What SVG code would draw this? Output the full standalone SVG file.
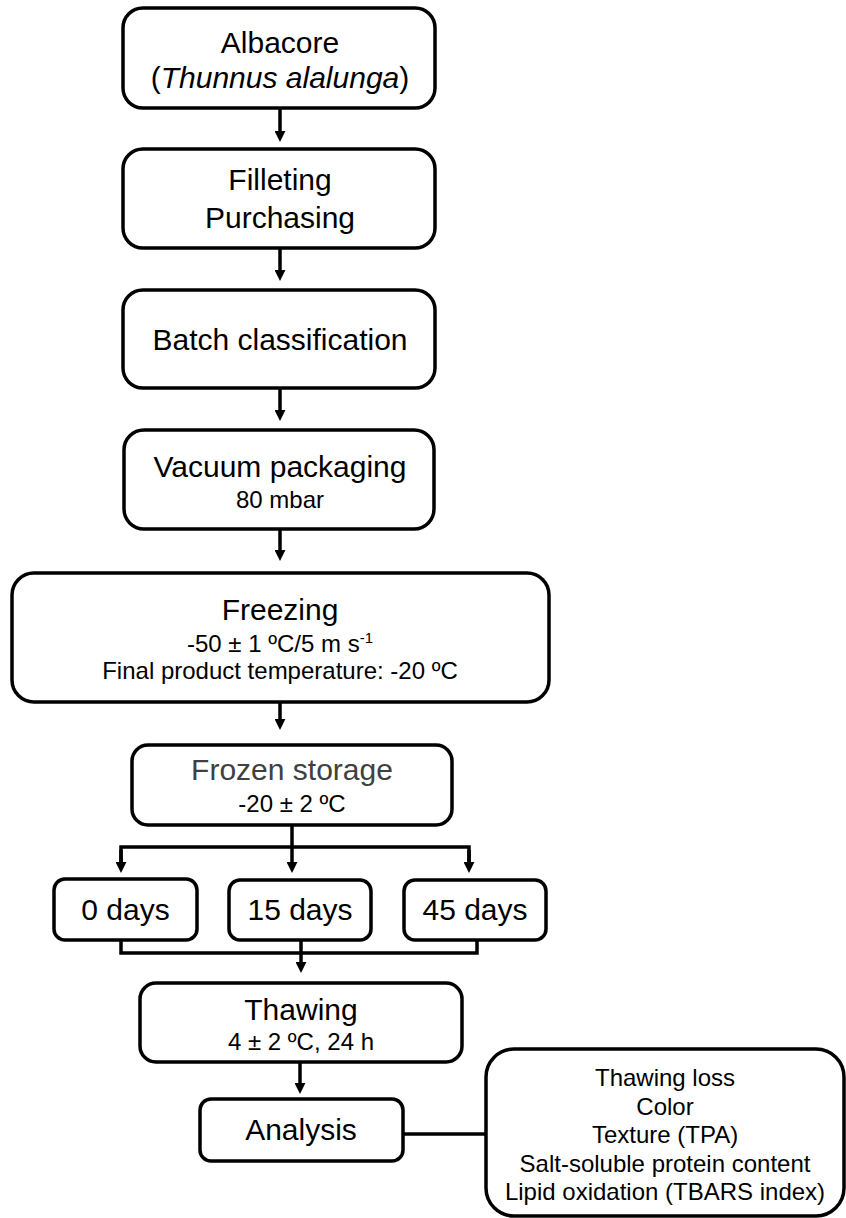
<svg xmlns="http://www.w3.org/2000/svg" width="846" height="1218" viewBox="0 0 846 1218">
<style>
.box{fill:#fff;stroke:#000;stroke-width:3.5}
.t{font-family:"Liberation Sans",Arial,sans-serif;fill:#000;text-anchor:middle}
.big{font-size:30px}
.sm{font-size:24px}
.ln{fill:none;stroke:#000;stroke-width:3.5}
</style>
<defs>
<marker id="ah" viewBox="0 0 10 10" refX="1" refY="5" markerWidth="11" markerHeight="11" markerUnits="userSpaceOnUse" orient="auto">
<path d="M0,0 L10,5 L0,10 z" fill="#000"/>
</marker>
</defs>
<rect width="846" height="1218" fill="#fff"/>
<g id="connectors">
<line class="ln" x1="280" y1="108" x2="280" y2="132" marker-end="url(#ah)"/>
<line class="ln" x1="280" y1="248" x2="280" y2="271" marker-end="url(#ah)"/>
<line class="ln" x1="280" y1="388" x2="280" y2="411" marker-end="url(#ah)"/>
<line class="ln" x1="280" y1="529" x2="280" y2="551" marker-end="url(#ah)"/>
<line class="ln" x1="280" y1="702" x2="280" y2="720" marker-end="url(#ah)"/>
<polyline class="ln" points="292,825 292,847"/>
<polyline class="ln" points="121,863 121,847 469,847 469,863" />
<line class="ln" x1="121" y1="850" x2="121" y2="863" marker-end="url(#ah)"/>
<line class="ln" x1="292" y1="847" x2="292" y2="863" marker-end="url(#ah)"/>
<line class="ln" x1="469" y1="850" x2="469" y2="863" marker-end="url(#ah)"/>
<polyline class="ln" points="121,940 121,953 477,953 477,940"/>
<line class="ln" x1="301" y1="940" x2="301" y2="963" marker-end="url(#ah)"/>
<line class="ln" x1="300" y1="1062" x2="300" y2="1084" marker-end="url(#ah)"/>
<line class="ln" x1="403" y1="1134" x2="486" y2="1134"/>
</g>
<g id="albacore">
<rect class="box" x="123" y="8" width="312" height="100" rx="20"/>
<text class="t big" x="280" y="53">Albacore</text>
<text class="t big" x="280" y="88">(<tspan font-style="italic">Thunnus alalunga</tspan>)</text>
</g>
<g id="filleting">
<rect class="box" x="123" y="149" width="312" height="99" rx="20"/>
<text class="t big" x="280" y="190">Filleting</text>
<text class="t big" x="280" y="228">Purchasing</text>
</g>
<g id="batch">
<rect class="box" x="123" y="290" width="312" height="98" rx="20"/>
<text class="t big" x="280" y="350">Batch classification</text>
</g>
<g id="vacuum">
<rect class="box" x="124" y="430" width="310" height="99" rx="20"/>
<text class="t big" x="280" y="477">Vacuum packaging</text>
<text class="t sm" x="280" y="508">80 mbar</text>
</g>
<g id="freezing">
<rect class="box" x="12" y="573" width="537" height="129" rx="22"/>
<text class="t big" x="280" y="620">Freezing</text>
<text class="t sm" x="280" y="652">-50 ± 1 ºC/5 m s<tspan font-size="15" dy="-9">-1</tspan></text>
<text class="t sm" x="280" y="679">Final product temperature: -20 ºC</text>
</g>
<g id="storage">
<rect class="box" x="132" y="745" width="320" height="80" rx="16"/>
<text class="t big" x="292" y="780" fill="#404040" style="fill:#404040">Frozen storage</text>
<text class="t sm" x="292" y="812">-20 ± 2 ºC</text>
</g>
<g id="day0">
<rect class="box" x="54" y="879" width="143" height="61" rx="11"/>
<text class="t big" x="125.5" y="920">0 days</text>
</g>
<g id="day15">
<rect class="box" x="229" y="880" width="142" height="60" rx="11"/>
<text class="t big" x="300" y="920">15 days</text>
</g>
<g id="day45">
<rect class="box" x="404" y="880" width="142" height="60" rx="11"/>
<text class="t big" x="475" y="920">45 days</text>
</g>
<g id="thawing">
<rect class="box" x="140" y="983" width="322" height="79" rx="16"/>
<text class="t big" x="301" y="1020">Thawing</text>
<text class="t sm" x="301" y="1050">4 ± 2 ºC, 24 h</text>
</g>
<g id="analysis">
<rect class="box" x="200" y="1099" width="203" height="62" rx="11"/>
<text class="t big" x="301" y="1140">Analysis</text>
</g>
<g id="parameters">
<rect class="box" x="486" y="1049" width="358" height="167" rx="28"/>
<text class="t sm" x="665" y="1086">Thawing loss</text>
<text class="t sm" x="665" y="1114.5">Color</text>
<text class="t sm" x="665" y="1143">Texture (TPA)</text>
<text class="t sm" x="665" y="1171.5">Salt-soluble protein content</text>
<text class="t sm" x="665" y="1200">Lipid oxidation (TBARS index)</text>
</g>
</svg>
